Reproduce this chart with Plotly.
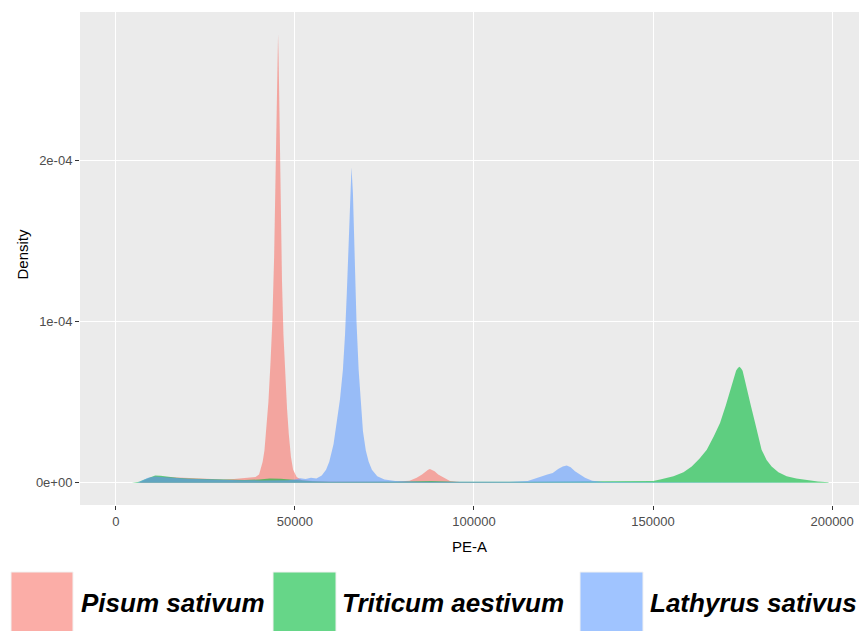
import plotly.graph_objects as go

# ---------------- data (density values in units of 1e-5) ----------------
species = ["Pisum sativum", "Triticum aestivum", "Lathyrus sativus"]

pisum_x = [6500, 8000, 9500, 11000, 13000, 16000, 20000, 25000, 30000, 33000, 35000, 37000, 39000,
           40000, 41000, 41500, 42000, 42600, 43200, 43700, 44200, 44600, 44900, 45150, 45300, 45450,
           45700, 46000, 46400, 46800, 47300, 47800, 48300, 48900, 49500, 50500, 52000, 55000, 60000,
           70000, 78000, 82000, 84000, 85500, 86500, 87200, 87700, 88300, 89000, 90000, 91500, 93300,
           96000, 110000, 130000, 140000]
pisum_y = [0, 0.15, 0.3, 0.38, 0.36, 0.3, 0.26, 0.22, 0.2, 0.22, 0.27, 0.3, 0.35,
           0.5, 1.3, 2.0, 3.2, 5.0, 7.5, 10.0, 14.0, 18.5, 23.0, 26.5, 27.86, 26.5,
           22.0, 17.0, 12.5, 9.2, 6.5, 4.6, 3.0, 1.6, 0.8, 0.35, 0.15, 0.1, 0.07,
           0.05, 0.06, 0.12, 0.3, 0.5, 0.7, 0.8, 0.85, 0.8, 0.7, 0.5, 0.3, 0.1,
           0.04, 0.02, 0.01, 0]

triticum_x = [4500, 6500, 8000, 9500, 11000, 12500, 14000, 17000, 20000, 24000, 28000, 32000, 36000,
              40000, 43000, 46000, 48000, 50000, 55000, 60000, 70000, 80000, 88000, 95000, 110000,
              125000, 135000, 145000, 150000, 152000, 155700, 158500, 160800, 163000, 165000, 167000,
              168700, 170300, 171700, 172400, 173200, 173700, 174100, 174500, 175000, 175700, 176400,
              177400, 178500, 179400, 180300, 181700, 183100, 185000, 187300, 190000, 193000, 196000,
              199000]
triticum_y = [0, 0.05, 0.2, 0.35, 0.45, 0.43, 0.38, 0.3, 0.25, 0.22, 0.2, 0.17, 0.16,
              0.2, 0.25, 0.24, 0.2, 0.14, 0.08, 0.06, 0.05, 0.07, 0.1, 0.06, 0.05,
              0.06, 0.05, 0.08, 0.1, 0.2, 0.4, 0.65, 1.0, 1.5, 2.05, 2.9,
              3.7, 4.8, 5.8, 6.4, 6.97, 7.13, 7.2, 7.13, 6.95, 6.3, 5.7,
              4.7, 3.7, 2.8, 2.05, 1.4, 1.0, 0.65, 0.4, 0.25, 0.15, 0.07,
              0.02]

lathyrus_x = [6000, 7500, 9000, 11000, 13000, 16000, 20000, 25000, 30000, 35000, 40000, 45000, 48000,
              50000, 51500, 53000, 54500, 56000, 57500, 58700, 59600, 60800, 61800, 62600, 63400, 64000,
              64500, 65000, 65400, 65800, 66200, 66700, 67200, 67800, 68300, 69000, 69800, 70600, 71500,
              73000, 75000, 78000, 85000, 100000, 110000, 115000, 117500, 119000, 120500, 122000, 123500,
              124800, 125900, 127000, 128200, 129600, 131000, 133000, 136000, 150000, 170000, 198000]
lathyrus_y = [0, 0.15, 0.3, 0.38, 0.36, 0.3, 0.24, 0.2, 0.17, 0.15, 0.14, 0.13, 0.15,
              0.2, 0.28, 0.22, 0.3, 0.25, 0.45, 0.8, 1.3, 2.4, 3.8, 5.2, 7.0, 9.2,
              11.8, 15.0, 18.0, 19.6, 18.0, 14.0, 10.0, 7.0, 5.2, 3.2, 2.0, 1.3, 0.8,
              0.4, 0.2, 0.1, 0.05, 0.04, 0.05, 0.1, 0.3, 0.4, 0.5, 0.6, 0.85,
              1.0, 1.07, 0.95, 0.7, 0.5, 0.3, 0.12, 0.04, 0.03, 0.02, 0]

x_tick_vals = [0, 50000, 100000, 150000, 200000]
x_tick_text = ["0", "50000", "100000", "150000", "200000"]
y_tick_vals = [0, 1e-4, 2e-4]
y_tick_text = ["0e+00", "1e-04", "2e-04"]

colors = ["rgba(248,118,109,0.6)", "rgba(0,186,56,0.6)", "rgba(97,156,255,0.6)"]
series = [(pisum_x, pisum_y), (triticum_x, triticum_y), (lathyrus_x, lathyrus_y)]

# ---------------- layout geometry (pixels) ----------------
W, H = 859, 631
L, R, T, B = 80, 0, 12, 126
PW = W - L - R
PH = H - T - B


def px_x(x):
    return (x - L) / PW


def px_y(y):
    return (H - B - y) / PH


fig = go.Figure()
for name, (xs, ys), col in zip(species, series, colors):
    fig.add_trace(go.Scatter(
        x=xs, y=[v * 1e-5 for v in ys], name=name, mode="lines",
        line=dict(width=0, color=col), fill="tozeroy", fillcolor=col,
        showlegend=False, hoverinfo="skip"))

axis_common = dict(showgrid=True, gridcolor="white", gridwidth=1.1, zeroline=False,
                   ticks="outside", ticklen=4, tickwidth=1, tickcolor="#333333",
                   tickfont=dict(family="Liberation Sans, Arial", size=13, color="#4d4d4d"),
                   showline=False)

fig.update_layout(
    width=W, height=H,
    margin=dict(l=L, r=R, t=T, b=B, pad=0),
    paper_bgcolor="white", plot_bgcolor="#EBEBEB",
    xaxis=dict(range=[-10000, 207500], tickvals=x_tick_vals, ticktext=x_tick_text, **axis_common),
    yaxis=dict(range=[-0.139e-4, 2.925e-4], tickvals=y_tick_vals, ticktext=y_tick_text, **axis_common),
    showlegend=False,
)

# axis titles
fig.add_annotation(text="PE-A", xref="paper", yref="paper", x=px_x(469.5), y=px_y(546),
                   xanchor="center", yanchor="middle", showarrow=False,
                   font=dict(family="Liberation Sans, Arial", size=15, color="black"))
fig.add_annotation(text="Density", xref="paper", yref="paper", x=px_x(21.5), y=px_y(254),
                   xanchor="center", yanchor="middle", showarrow=False, textangle=-90,
                   font=dict(family="Liberation Sans, Arial", size=15, color="black"))

# custom legend (large keys, bold italic labels)
key_boxes = [(11, 73), (273, 336), (580, 643)]
text_left = [79, 340, 648]
for name, col, (bx0, bx1), tx in zip(species, colors, key_boxes, text_left):
    fig.add_shape(type="rect", xref="paper", yref="paper",
                  x0=px_x(bx0), x1=px_x(bx1), y0=px_y(572), y1=px_y(635),
                  fillcolor=col, line=dict(color="#F2F2F2", width=1), layer="above")
    fig.add_annotation(text="<b><i>%s</i></b>" % name, xref="paper", yref="paper",
                       x=px_x(tx), y=px_y(603), xanchor="left", yanchor="middle",
                       showarrow=False,
                       font=dict(family="Liberation Sans, Arial", size=26, color="black"))

fig.write_html("out.html", config={"displayModeBar": False},
               post_script="document.body.style.margin='0';")
